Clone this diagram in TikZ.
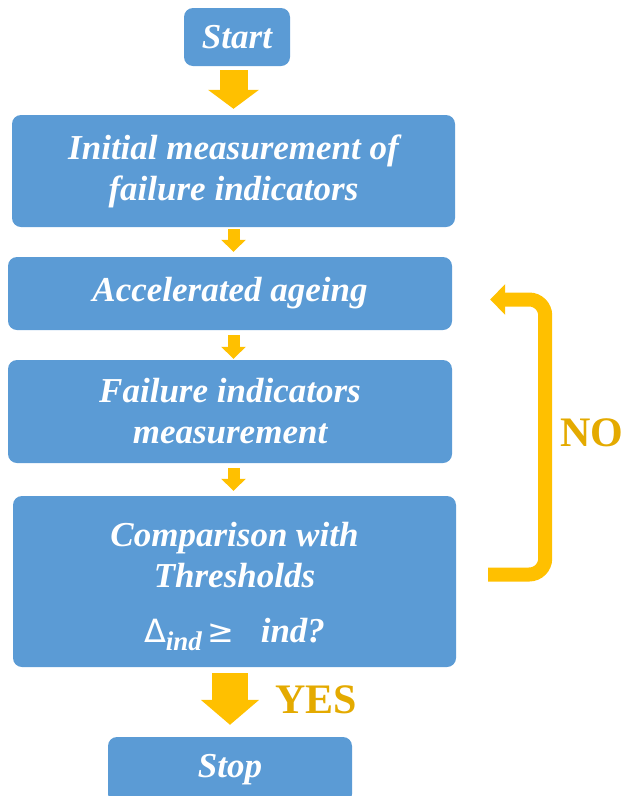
\documentclass[tikz,border=0pt]{standalone}
\usepackage{fontspec}
\setmainfont{Liberation Serif}
\newfontfamily\symfamily{DejaVu Sans}
\usetikzlibrary{arrows.meta, positioning}
\definecolor{stepblue}{RGB}{91, 155, 213}
\definecolor{flowgold}{RGB}{255, 192, 0}
\definecolor{labelgold}{RGB}{228, 170, 0}

\begin{document}
\begin{tikzpicture}[x=1pt, y=-1pt,
    procbox/.style={fill=stepblue, draw=none, rounded corners=9pt, text=white, align=center,
        inner sep=0pt, font=\fontsize{35}{41}\selectfont\bfseries\itshape},
    bigarrow/.style={draw=flowgold, line width=28pt, -{Triangle[length=19pt, width=50pt]}},
    smallarrow/.style={draw=flowgold, line width=12pt, -{Triangle[length=12pt, width=24pt]}},
    yesarrow/.style={draw=flowgold, line width=36pt, -{Triangle[length=25pt, width=57pt]}},
    loopline/.style={draw=flowgold, line width=14pt, rounded corners=16pt,
        -{Triangle[length=15pt, width=30pt]}},
    answer/.style={anchor=base west, text=labelgold, font=\fontsize{42}{42}\selectfont\bfseries}]
    \useasboundingbox (0,0) rectangle (623,796);

    % Steps
    \node[procbox, minimum width=106pt, minimum height=58pt] (start) at (237,37) {Start};
    \node[procbox, minimum width=443pt, minimum height=112pt] (init) at (233.5,171)
        {Initial measurement of\\failure indicators};
    \node[procbox, minimum width=444pt, minimum height=73pt] (accel) at (230,293.5) {Accelerated ageing};
    \node[procbox, minimum width=444pt, minimum height=103pt] (fimeas) at (230,411.5)
        {Failure indicators\\measurement};
    \node[procbox, minimum width=443pt, minimum height=171pt] (comp) at (234.5,581.5)
        {\rule{0pt}{35pt}Comparison with\\Thresholds\\[14pt]
         {\normalfont\symfamily\fontsize{32}{32}\selectfont Δ}\raisebox{-8pt}{\fontsize{27}{27}\selectfont ind}\,%
         {\normalfont\symfamily\fontsize{32}{32}\selectfont ≥}\ \ \ ind?};
    \node[procbox, minimum width=244pt, minimum height=66pt] (stop) at (230,770) {Stop};

    % Flow arrows
    \draw[bigarrow, shorten <=4pt, shorten >=6pt] (init.north |- start.south) -- (init.north);
    \draw[smallarrow, shorten <=2pt, shorten >=5pt] (init.south) -- (init.south |- accel.north);
    \draw[smallarrow, shorten <=5pt, shorten >=1pt] (init.south |- accel.south) -- (init.south |- fimeas.north);
    \draw[smallarrow, shorten <=5pt, shorten >=5pt] (init.south |- fimeas.south) -- (init.south |- comp.north);
    \draw[yesarrow, shorten <=6pt, shorten >=12pt] (stop.north |- comp.south) -- (stop.north);

    % Loop back
    \draw[loopline] ([xshift=32pt, yshift=7pt]comp.east) -- ++(57,0) |- ([xshift=38pt, yshift=-6pt]accel.east);

    % Answers
    \node[answer] (yes) at (272,713) {YES};
    \node[answer] (no) at (557,446) {NO};
\end{tikzpicture}
\end{document}
